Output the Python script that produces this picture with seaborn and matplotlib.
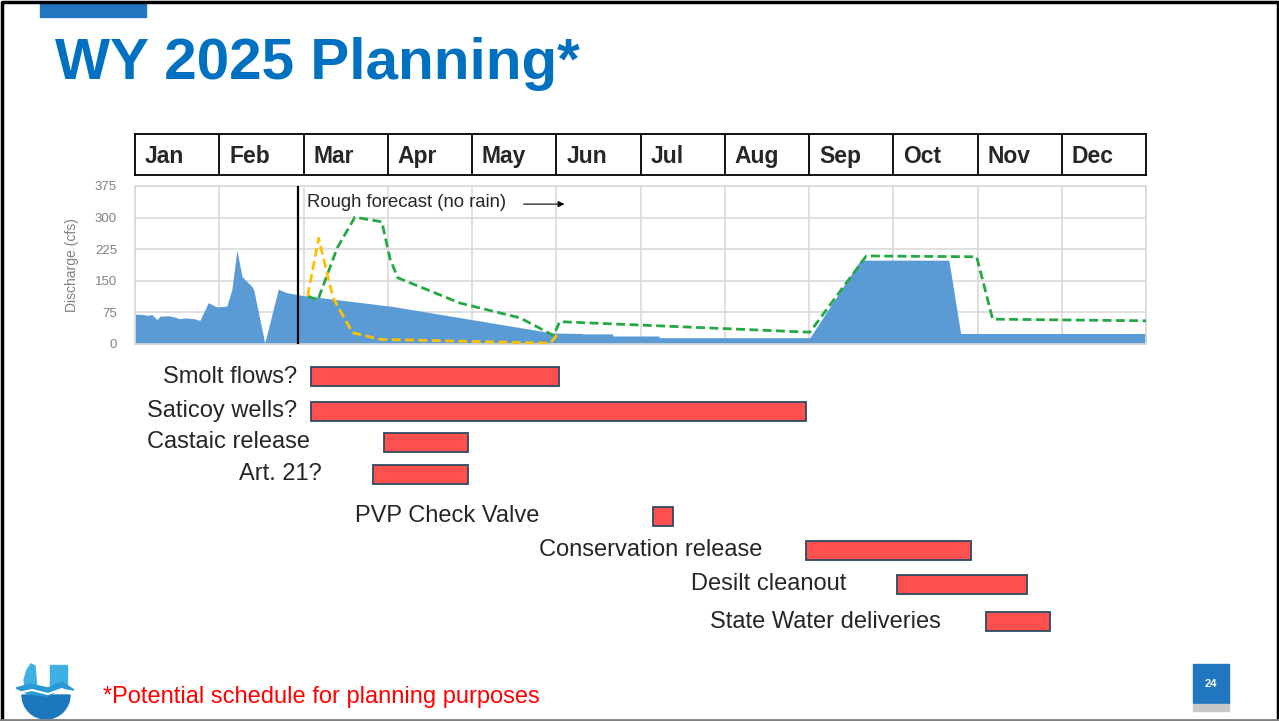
import matplotlib
matplotlib.use("Agg")
import matplotlib.pyplot as plt
from matplotlib.patches import Rectangle, Polygon, Wedge
import seaborn as sns

# ---- data (x in months since Jan 1) ----
months = ["Jan", "Feb", "Mar", "Apr", "May", "Jun",
          "Jul", "Aug", "Sep", "Oct", "Nov", "Dec"]

# observed / planned discharge, cfs (blue area)
flow_x = [0.00, 0.10, 0.15, 0.20, 0.26, 0.30, 0.40, 0.47, 0.53, 0.60, 0.70, 0.77,
          0.87, 0.97, 1.09, 1.15, 1.21, 1.27, 1.39, 1.41, 1.54, 1.70, 1.80, 1.96,
          3.06, 4.96, 5.31, 5.31, 5.67, 5.67, 6.22, 6.22, 8.01, 8.61, 9.66, 9.80, 12.0]
flow_y = [71, 70, 68, 70, 58, 66, 67, 64, 60, 62, 60, 56,
          98, 88, 90, 130, 223, 160, 136, 128, 2, 130, 122, 116,
          89, 26, 25, 24, 24, 19, 19, 15, 15, 199, 199, 25, 25]

# rough forecast lines
green_x = [2.05, 2.17, 2.40, 2.61, 2.93, 3.03, 3.12, 3.86, 4.57, 4.97, 5.04, 8.01, 8.68, 9.99, 10.18, 12.0]
green_y = [114, 104, 228, 301, 290, 200, 157, 97, 62, 20, 53, 28, 209, 207, 59, 55]
yellow_x = [2.05, 2.18, 2.35, 2.58, 2.91, 4.93, 5.01]
yellow_y = [114, 251, 110, 27, 11, 2, 22]

forecast_start = 1.93
y_ticks = [0, 75, 150, 225, 300, 375]

# schedule
task_names = ["Smolt flows?", "Saticoy wells?", "Castaic release", "Art. 21?",
              "PVP Check Valve", "Conservation release", "Desilt cleanout",
              "State Water deliveries"]
task_start = [2.09, 2.09, 2.96, 2.82, 6.15, 7.96, 9.04, 10.10]
task_end = [5.03, 7.96, 3.95, 3.95, 6.39, 9.92, 10.59, 10.86]

# ---- layout (pixels) ----
W, H = 1279, 721
row_y_px = [377, 411, 442.5, 474, 516.5, 550.5, 584.5, 621.5]
label_right_px = [297, 297, 310, 322, 539, 762, 846, 941]


def box(x0, y0, x1, y1):
    return [x0 / W, 1 - y1 / H, (x1 - x0) / W, (y1 - y0) / H]


sns.set_style("white")
plt.rcParams['font.family'] = ['Liberation Sans', 'DejaVu Sans']

fig = plt.figure(figsize=(W / 100, H / 100), dpi=100)

# discharge chart
ax = fig.add_axes(box(135, 186, 1146, 344))
ax.fill_between(flow_x, flow_y, color='#5B9BD5', lw=0, zorder=2)
sns.lineplot(x=green_x, y=green_y, ax=ax, color='#23A843', lw=2.0,
             sort=False, estimator=None, zorder=3)
ax.lines[-1].set_dashes((3.2, 1.6))
sns.lineplot(x=yellow_x, y=yellow_y, ax=ax, color='#FFC000', lw=2.0,
             sort=False, estimator=None, zorder=3)
ax.lines[-1].set_dashes((3.2, 1.6))
ax.axvline(forecast_start, color='black', lw=1.6, zorder=4)
ax.set_xlim(0, 12)
ax.set_ylim(0, 375)
ax.set_xticks(range(13))
ax.set_yticks(y_ticks)
ax.grid(True, color='#D9D9D9', lw=1.2)
ax.set_axisbelow(True)
for s in ax.spines.values():
    s.set_color('#D9D9D9')
    s.set_linewidth(1.2)
ax.tick_params(axis='x', labelbottom=False, length=0)
ax.tick_params(axis='y', length=0, pad=13, labelsize=9.5, labelcolor='#808080')
ax.set_ylabel("Discharge (cfs)", fontsize=10, color='#808080')
ax.yaxis.set_label_coords(-56 / 1011, 0.5)
ax.text(2.04, 335, "Rough forecast (no rain)", fontsize=13.3, va='center', ha='left')
ax.annotate("", xy=(5.13, 332), xytext=(4.58, 332),
            arrowprops=dict(arrowstyle='-|>', color='black', lw=0.8, mutation_scale=9))

# month header table
tax = fig.add_axes(box(135, 134, 1146, 175))
tax.set_xlim(0, 12)
tax.set_ylim(0, 1)
tax.set_xticks([])
tax.set_yticks([])
for i in range(1, 12):
    tax.axvline(i, color='black', lw=1.3)
for s in tax.spines.values():
    s.set_color('black')
    s.set_linewidth(1.3)
for i, m in enumerate(months):
    tax.text(i + 10 / 84.25, 0.46, m, fontsize=16.5, fontweight='bold', va='center', ha='left')

# schedule bars
gax = fig.add_axes(box(135, 360, 1146, 640))
gax.set_xlim(0, 12)
gax.set_ylim(640, 360)
gax.axis('off')
gax.barh(row_y_px, [e - s for s, e in zip(task_start, task_end)], left=task_start,
         height=19, color='#FF5050', edgecolor='#2E4A62', lw=1.3)

# overlay for slide decorations and labels (pixel coords)
oax = fig.add_axes([0, 0, 1, 1])
oax.set_xlim(0, W)
oax.set_ylim(H, 0)
oax.axis('off')

for name, xr, yc in zip(task_names, label_right_px, row_y_px):
    oax.text(xr, yc, name, fontsize=17, ha='right', va='center')

oax.add_patch(Rectangle((40, 3), 106, 14, color='#2276C0'))
oax.text(55, 79, "WY 2025 Planning*", fontsize=42, fontweight='bold',
         color='#0070C0', ha='left', va='baseline')
oax.text(103, 697, "*Potential schedule for planning purposes", fontsize=17,
         color='#FF0000', ha='left', va='center')

# page number
oax.add_patch(Rectangle((1193, 664), 36, 40, color='#2177BF'))
oax.add_patch(Rectangle((1193, 704), 36, 7, color='#C8C8C8'))
oax.text(1211, 684, "24", fontsize=8, fontweight='bold', color='white', ha='center', va='center')

# logo (rough)
oax.add_patch(Rectangle((50, 665), 17, 23, color='#3FB0E4'))
oax.add_patch(Polygon([(24, 680), (27, 670), (31, 664), (35, 666), (37, 690), (26, 692)],
                      color='#3FB0E4'))
oax.add_patch(Wedge((46, 695), 24, 0, 180, color='#1C78BE'))
oax.add_patch(Polygon([(16, 688), (30, 684), (48, 688), (62, 682), (74, 690),
                       (62, 688), (48, 696), (28, 694)], color='#2A9AD6'))
oax.plot([18, 32, 48, 62, 72], [693, 690, 694, 689, 694], color='white', lw=1.5)

# slide border
oax.plot([1.5, 1.5, 1277.5, 1277.5], [720, 1.5, 1.5, 720], color='black', lw=2.5)
oax.plot([0, W], [719.5, 719.5], color='#808080', lw=2)

fig.savefig("out.png", dpi=100)
